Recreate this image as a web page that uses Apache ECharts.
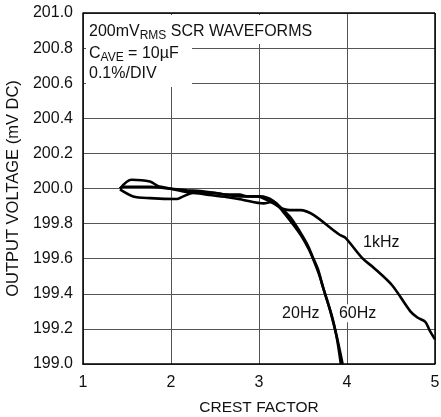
<!DOCTYPE html>
<html><head><meta charset="utf-8">
<script src="https://cdn.jsdelivr.net/npm/echarts@6/dist/echarts.min.js"></script>
<style>html,body{margin:0;padding:0;background:#fff}#c{width:441px;height:417px}</style>
</head><body><div id="c"></div>
<script>
const xTicks = [1, 2, 3, 4, 5];
const yTicks = [199.0, 199.2, 199.4, 199.6, 199.8, 200.0, 200.2, 200.4, 200.6, 200.8, 201.0];
const s20Hz = [[1.42,200.0],[1.55,200.05],[1.76,200.04],[1.85,200.015],[1.99,200.0],[2.18,199.98],[2.33,199.975],[2.48,199.975],[2.64,199.965],[2.78,199.965],[2.86,199.955],[2.98,199.955],[3.09,199.935],[3.24,199.89],[3.35,199.84],[3.47,199.75],[3.55,199.68],[3.61,199.61],[3.67,199.54],[3.72,199.45],[3.8,199.32],[3.88,199.16],[3.93,199.0]];
const s60Hz = [[1.42,200.0],[1.46,200.01],[1.76,200.01],[1.96,200.0],[2.18,199.99],[2.33,199.985],[2.56,199.97],[2.78,199.955],[3.01,199.955],[3.16,199.93],[3.27,199.87],[3.38,199.80],[3.48,199.73],[3.57,199.65],[3.63,199.58],[3.69,199.50],[3.75,199.40],[3.83,199.27],[3.9,199.12],[3.95,199.0]];
const s1kHz = [[1.42,199.995],[1.57,199.955],[1.76,199.945],[2.07,199.94],[2.14,199.955],[2.25,199.975],[2.41,199.965],[2.64,199.95],[2.82,199.935],[3.05,199.915],[3.16,199.925],[3.27,199.885],[3.39,199.877],[3.47,199.877],[3.92,199.735],[3.98,199.72],[4.18,199.60],[4.30,199.55],[4.51,199.45],[4.72,199.30],[4.80,199.265],[4.89,199.24],[4.94,199.19],[5.0,199.14]];
const seriesNames = ['20Hz', '60Hz', '1kHz'];
const labelAt = {'20Hz':[3.24,199.34], '60Hz':[3.885,199.34], '1kHz':[4.16,199.745]};

const FONT = "'Liberation Sans',Arial,sans-serif";
const chart = echarts.init(document.getElementById('c'), null, {renderer:'canvas'});
const lineSeries = (name, data) => ({
  name, type:'line', data, showSymbol:false, smooth:0.3, clip:true,
  lineStyle:{color:'#000', width:2.6}, z:5
});
chart.setOption({
  animation:false,
  grid:{left:83, right:6, top:13, bottom:53, containLabel:false, outerBoundsMode:'none'},
  xAxis:{type:'value', min:xTicks[0], max:xTicks[xTicks.length-1], interval:1,
    name:'CREST FACTOR', nameLocation:'middle', nameGap:36,
    nameTextStyle:{fontFamily:FONT, fontSize:15.5, color:'#111'},
    axisLine:{show:true, lineStyle:{color:'#000', width:1.5}},
    axisTick:{show:false},
    axisLabel:{fontFamily:FONT, fontSize:16, color:'#111', margin:11},
    splitLine:{show:true, lineStyle:{color:'#555', width:1}}},
  yAxis:{type:'value', min:yTicks[0], max:yTicks[yTicks.length-1], interval:0.2,
    name:'OUTPUT VOLTAGE (mV DC)', nameLocation:'middle', nameGap:56,
    nameTextStyle:{fontFamily:FONT, fontSize:16.5, color:'#111'},
    axisLine:{show:true, lineStyle:{color:'#000', width:1.5}},
    axisTick:{show:false},
    axisLabel:{fontFamily:FONT, fontSize:16, color:'#111', margin:10, formatter:v=>v.toFixed(1)},
    splitLine:{show:true, lineStyle:{color:'#555', width:1}}},
  series:[lineSeries(seriesNames[0], s20Hz), lineSeries(seriesNames[1], s60Hz), lineSeries(seriesNames[2], s1kHz),
    {type:'line', data:[], markLine:{silent:true, symbol:'none', label:{show:false},
      lineStyle:{color:'#000', width:1.5, type:'solid'},
      data:[[{coord:[5,199]},{coord:[5,201]}],[{coord:[1,201]},{coord:[5,201]}]]}}]
});
const g = [];
const p0 = chart.convertToPixel({gridIndex:0}, [1, 201]);
g.push({type:'rect', shape:{x:p0[0]+3, y:p0[1]+2, width:232, height:29}, style:{fill:'#fff'}, z:10});
g.push({type:'rect', shape:{x:p0[0]+3, y:p0[1]+2, width:106, height:72}, style:{fill:'#fff'}, z:10});
const txt = (x,y,rich) => ({type:'text', x, y, z:11, style:{text:rich, fontFamily:FONT, fontSize:16, fill:'#111',
  rich:{s:{fontFamily:FONT, fontSize:12, fill:'#111', padding:[9,0,0,0]}, n:{fontFamily:FONT, fontSize:16, fill:'#111'}}}});
g.push(txt(p0[0]+6, p0[1]+8, '{n|200mV}{s|RMS}{n| SCR WAVEFORMS}'));
g.push(txt(p0[0]+6, p0[1]+30, '{n|C}{s|AVE}{n| = 10µF}'));
g.push(txt(p0[0]+6, p0[1]+53, '{n|0.1%/DIV}'));
seriesNames.forEach(n => {
  const p = chart.convertToPixel({gridIndex:0}, labelAt[n]);
  g.push({type:'text', x:p[0], y:p[1], z:12, style:{text:n, fontFamily:FONT, fontSize:16, fill:'#111',
    backgroundColor: n === '1kHz' ? 'transparent' : '#fff', padding:[1,2]}});
});
chart.setOption({graphic:g});
</script></body></html>
